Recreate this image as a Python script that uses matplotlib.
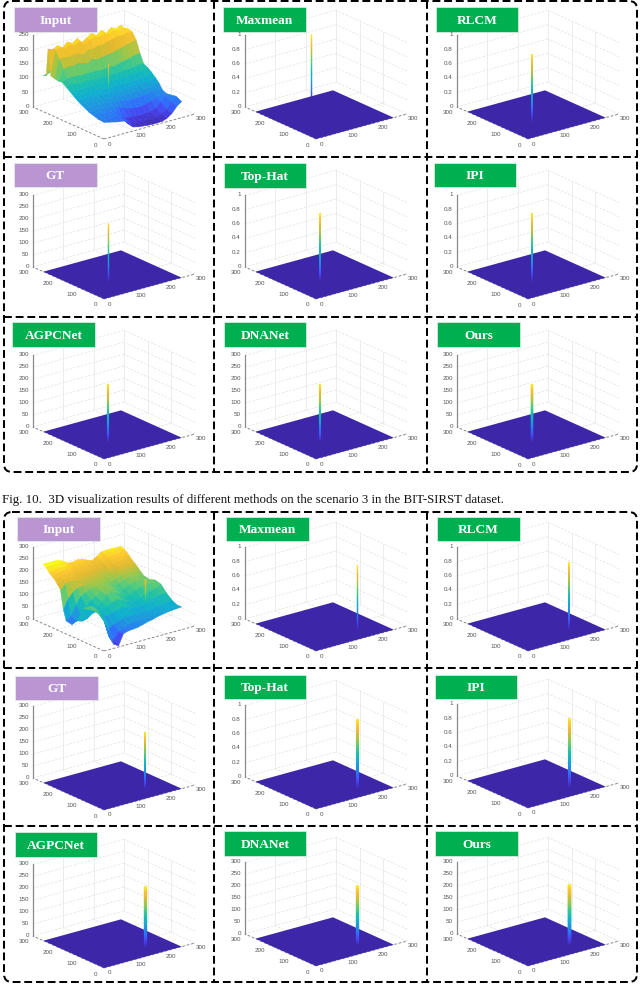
"""Recreates the two BIT-SIRST 3x3 3D result grids with their dashed frames."""
import matplotlib
matplotlib.use("Agg")
import matplotlib.pyplot as plt
import numpy as np
from matplotlib.colors import LinearSegmentedColormap
from matplotlib.patches import FancyBboxPatch, Rectangle
from mpl_toolkits.mplot3d import proj3d
from mpl_toolkits.mplot3d.art3d import Line3DCollection

W, H = 640, 984

METHODS = ["Input", "Maxmean", "RLCM",
           "GT", "Top-Hat", "IPI",
           "AGPCNet", "DNANet", "Ours"]
CAPTION = "Fig. 10.  3D visualization results of different methods on the scenario 3 in the BIT-SIRST dataset."

XY_TICKS = [0, 100, 200, 300]
TICKS_UNIT = [0, 0.2, 0.4, 0.6, 0.8, 1]
TICKS_300 = [0, 50, 100, 150, 200, 250, 300]
TICKS_250 = [0, 50, 100, 150, 200, 250]

# z axis top per panel
ZMAX_A = [250, 1, 1, 300, 1, 1, 300, 300, 300]
ZMAX_B = [300, 1, 1, 300, 1, 1, 300, 300, 300]

# target spike: floor position and peak height
SPIKE_XY_A = (80, 85)
SPIKE_XY_B = (174, 50)
SPIKE_TOP_A = [208, 1.0, 0.97, 254, 0.98, 0.98, 250, 250, 250]
SPIKE_TOP_B = [220, 0.92, 0.96, 245, 0.98, 0.98, 262, 258, 262]
SPIKE_FLOOR_INPUT_A = 80
SPIKE_FLOOR_INPUT_B = 117
MAXMEAN_XY_A = (141, 202)

FLOOR_EDGE = [0, 256]
GRID_X = [0, 16, 32, 48, 64, 80, 96, 112, 128, 144, 160, 176, 192, 208, 224, 240, 256]

# Input surface, scenario A
GRID_Y_A = [0, 24, 48, 64, 80, 96, 112, 128, 144, 160, 176, 192, 208, 224, 236, 244, 256]
INPUT_A = [
    [58, 54, 50, 46, 44, 38, 14, 10, 8, 6, 5, 5, 6, 12, 24, 44, 56],
    [60, 58, 56, 54, 50, 42, 18, 14, 12, 10, 10, 10, 12, 18, 30, 52, 66],
    [66, 66, 64, 62, 60, 56, 30, 24, 22, 20, 18, 20, 22, 30, 46, 64, 62],
    [70, 70, 70, 70, 68, 66, 60, 52, 46, 42, 38, 40, 44, 50, 58, 64, 60],
    [78, 78, 78, 78, 76, 74, 72, 70, 68, 64, 64, 64, 66, 68, 72, 74, 66],
    [84, 84, 84, 84, 84, 82, 80, 80, 78, 76, 76, 76, 76, 78, 80, 82, 86],
    [92, 92, 92, 92, 92, 90, 90, 88, 88, 86, 88, 86, 88, 88, 90, 92, 100],
    [102, 102, 100, 102, 100, 100, 98, 98, 96, 96, 98, 96, 98, 98, 100, 102, 112],
    [112, 112, 112, 110, 110, 110, 110, 108, 108, 110, 108, 110, 110, 112, 114, 116, 122],
    [122, 126, 124, 122, 122, 122, 120, 122, 120, 122, 122, 120, 124, 124, 126, 130, 128],
    [132, 140, 142, 140, 138, 140, 138, 140, 136, 140, 140, 138, 146, 148, 152, 158, 160],
    [130, 166, 170, 168, 172, 170, 164, 174, 168, 172, 174, 176, 182, 186, 192, 196, 200],
    [133, 196, 198, 194, 200, 196, 188, 202, 200, 206, 206, 212, 214, 220, 218, 224, 222],
    [136, 222, 224, 218, 226, 220, 228, 212, 224, 230, 224, 232, 226, 234, 228, 234, 226],
    [226, 220, 228, 216, 232, 222, 234, 216, 228, 238, 226, 240, 224, 240, 230, 240, 212],
    [130, 150, 150, 150, 150, 150, 150, 150, 150, 150, 150, 150, 150, 150, 150, 150, 150],
    [125, 130, 130, 130, 130, 130, 130, 130, 130, 130, 130, 130, 130, 130, 130, 130, 130],
]

# Input surface, scenario B
GRID_Y_B = [0, 20, 40, 64, 88, 112, 136, 160, 172, 184, 196, 208, 220, 232, 244, 256]
INPUT_B = [
    [130, 83, 17, 5, 50, 56, 58, 60, 66, 72, 76, 82, 86, 90, 92, 94, 95],
    [143, 110, 40, 20, 50, 62, 70, 72, 74, 76, 78, 82, 86, 88, 90, 92, 95],
    [150, 135, 95, 60, 70, 80, 88, 90, 88, 86, 88, 90, 95, 98, 100, 102, 105],
    [158, 150, 130, 100, 100, 105, 110, 116, 108, 100, 98, 102, 108, 115, 120, 125, 125],
    [140, 128, 118, 112, 118, 120, 130, 138, 126, 118, 108, 115, 120, 128, 135, 140, 152],
    [78, 70, 75, 90, 115, 128, 150, 162, 150, 136, 120, 125, 135, 145, 150, 150, 158],
    [50, 60, 80, 110, 130, 140, 158, 168, 160, 150, 136, 140, 150, 158, 160, 156, 150],
    [55, 70, 110, 140, 150, 160, 164, 170, 162, 156, 148, 150, 160, 166, 165, 160, 155],
    [100, 140, 160, 170, 172, 172, 174, 176, 170, 164, 160, 164, 174, 178, 176, 170, 166],
    [175, 195, 198, 198, 192, 184, 182, 180, 178, 172, 170, 176, 186, 190, 186, 182, 178],
    [190, 202, 206, 206, 200, 192, 190, 188, 186, 180, 178, 184, 196, 198, 196, 194, 188],
    [206, 210, 214, 214, 208, 200, 198, 198, 196, 190, 185, 192, 204, 208, 208, 206, 198],
    [216, 220, 224, 224, 216, 208, 206, 206, 204, 198, 192, 200, 212, 216, 218, 216, 210],
    [225, 228, 232, 232, 225, 215, 212, 214, 212, 206, 198, 208, 220, 224, 226, 224, 222],
    [240, 242, 244, 244, 232, 222, 218, 222, 220, 212, 204, 214, 228, 232, 232, 230, 230],
    [250, 250, 250, 250, 240, 226, 224, 228, 226, 216, 208, 220, 234, 236, 236, 235, 235],
]

# layout, in pixels from the top left of the page
FRONT_X = [104, 316, 528]
FRONT_Y_A = [[139, 139, 139], [299, 299, 299], [459, 459, 459]]
FRONT_Y_B = [[651, 651, 651], [810, 809, 808], [968, 966, 966]]
X_VEC = (91, -25)
BUTTONS_A = [(14, 7, 97, 32), (223, 7, 306, 32), (436, 7, 518, 32),
             (14, 163, 97, 187), (224, 163, 306, 188), (434, 163, 516, 187),
             (12, 322, 95, 347), (224, 322, 306, 347), (437, 322, 520, 347)]
BUTTONS_B = [(17, 517, 100, 541), (226, 517, 309, 541), (437, 517, 520, 541),
             (15, 676, 98, 700), (224, 675, 306, 699), (435, 675, 517, 699),
             (15, 832, 97, 857), (224, 831, 306, 856), (435, 831, 518, 856)]
SPIKE_LW_A = [0.8, 0.9, 1.4, 0.9, 1.4, 1.4, 1.5, 1.5, 1.7]
SPIKE_LW_B = [1.0, 0.9, 1.4, 1.3, 2.2, 2.2, 2.3, 2.3, 2.5]

PARULA = LinearSegmentedColormap.from_list("parula", [
    "#3e26a8", "#4743f0", "#2f6ffb", "#1f93e0", "#0fb0cf", "#1bc0a8",
    "#53cb7c", "#a4c644", "#e3b92f", "#fdc82e", "#f9fb15"])
PURPLE = "#b996d2"
GREEN = "#00b050"


def page_px(ax, x, y, z):
    """Page pixel (from the top left) of a data point of a 3D axes."""
    ax.apply_aspect()
    ax.M = ax.get_proj()
    px, py, _ = proj3d.proj_transform(x, y, z, ax.M)
    dx, dy = ax.transData.transform((px, py))
    return dx, H - dy


def place_axes(ax, front_xy):
    """Size and shift a 3D axes so that its box lands on the wanted page pixels."""
    side = 200.0
    ax.set_position([0.2, 0.2, side / W, side / H])
    a, b = page_px(ax, 0, 0, 0), page_px(ax, 300, 0, 0)
    side *= X_VEC[0] / (b[0] - a[0])
    ax.set_position([0.2, 0.2, side / W, side / H])
    a = page_px(ax, 0, 0, 0)
    left = 0.2 * W + front_xy[0] - a[0]
    bottom = 0.2 * H - (front_xy[1] - a[1])
    ax.set_position([left / W, bottom / H, side / W, side / H])


def draw_box(ax, page, zmax, zticks):
    dash = dict(color="#e2e2e2", lw=0.55, ls=(0, (3, 2)), zorder=1)
    solid = dict(color="#ececec", lw=0.7, zorder=1)
    for t in XY_TICKS[1:]:
        ax.plot([t, t], [0, 300], [0, 0], **dash)
        ax.plot([0, 300], [t, t], [0, 0], **dash)
        ax.plot([t, t], [300, 300], [0, zmax], **solid)
        ax.plot([300, 300], [t, t], [0, zmax], **solid)
    for z in zticks[1:]:
        ax.plot([0, 300], [300, 300], [z, z], **dash)
        ax.plot([300, 300], [0, 300], [z, z], **dash)
    edge = dict(color="#808080", lw=0.65, ls=(0, (3, 2)), zorder=1)
    ax.plot([0, 300], [0, 0], [0, 0], **edge)
    ax.plot([0, 0], [0, 300], [0, 0], **edge)
    ax.plot([0, 0], [300, 300], [0, zmax], color="#8a8a8a", lw=0.9, zorder=1)

    label = dict(fontsize=4.5, color="#555555", family="Liberation Sans")
    for t in XY_TICKS:
        px, py = page_px(ax, t, 0, 0)
        page.text(px + 6, py + 5, str(t), ha="center", va="center", **label)
        px, py = page_px(ax, 0, t, 0)
        page.text(px - 9, py + 6, str(t), ha="center", va="center", **label)
    for z in zticks:
        px, py = page_px(ax, 0, 300, z)
        page.text(px - 4, py - 0.5, f"{z:g}", ha="right", va="center", **label)


def draw_spike(ax, xy, z_from, z_top, vmax, lw, zorder=3):
    # drawn from the base upwards, each piece overlapping the one before it
    levels = np.linspace(z_from, z_top, 29)
    segs, colors = [], []
    for i in range(len(levels) - 1):
        top = levels[min(i + 2, len(levels) - 1)]
        segs.append([(xy[0], xy[1], levels[i]), (xy[0], xy[1], top)])
        colors.append(PARULA(levels[i] / vmax))
    ax.add_collection3d(Line3DCollection(segs, colors=colors, linewidths=lw, zorder=zorder,
                                         capstyle="butt"))


def draw_panel(fig, page, zmax, front_xy, spike_xy, spike_top, spike_lw, surface, spike_from):
    ax = fig.add_subplot(projection="3d", computed_zorder=False, proj_type="ortho")
    ax.view_init(elev=20.6, azim=-128)
    ax.set_xlim(0, 300, view_margin=0)
    ax.set_ylim(0, 300, view_margin=0)
    ax.set_zlim(0, zmax, view_margin=0)
    ax.set_box_aspect((115.5, 115.5, 76.5))
    ax.set_axis_off()
    ax.set_facecolor("none")
    place_axes(ax, front_xy)

    zticks = TICKS_UNIT if zmax == 1 else (TICKS_250 if zmax == 250 else TICKS_300)
    draw_box(ax, page, zmax, zticks)

    if surface is not None:
        gy, gz = surface
        X, Y = np.meshgrid(GRID_X, gy)
        surf = ax.plot_surface(X, Y, np.array(gz, dtype=float), cmap=PARULA, vmin=0, vmax=245,
                               rstride=1, cstride=1, linewidth=0, antialiased=True, shade=False,
                               zorder=2)
        # hide the seams between neighbouring quads
        surf.set_edgecolor("face")
        surf.set_linewidth(0.35)
        draw_spike(ax, spike_xy, spike_from, spike_top, 245, spike_lw)
    else:
        X, Y = np.meshgrid(FLOOR_EDGE, FLOOR_EDGE)
        ax.plot_surface(X, Y, np.zeros_like(X, dtype=float), color=PARULA(0.0),
                        linewidth=0, antialiased=True, shade=False, zorder=2)
        # the Maxmean peak of the first grid sits behind the floor sheet
        order = 1.5 if spike_xy == MAXMEAN_XY_A else 3
        draw_spike(ax, spike_xy, 0, spike_top, spike_top, spike_lw, zorder=order)
    return ax


def draw_frame(page, left, top, right, bottom, cols, rows):
    style = dict(color="black", lw=1.45, ls=(0, (3.9, 1.9)))
    page.add_patch(FancyBboxPatch((left, top), right - left, bottom - top,
                                  boxstyle="round,pad=0,rounding_size=8",
                                  fc="none", ec="black", lw=1.45, ls=(0, (3.9, 1.9))))
    for c in cols:
        page.plot([c, c], [top, bottom], **style)
    for r in rows:
        page.plot([left, right], [r, r], **style)


def draw_button(page, rect, name):
    x0, y0, x1, y1 = rect
    color = PURPLE if name in ("Input", "GT") else GREEN
    page.add_patch(Rectangle((x0, y0), x1 - x0, y1 - y0, fc=color, ec="#e4efe8", lw=0.5))
    page.text(0.5 * (x0 + x1), 0.5 * (y0 + y1) + 1.2, name, ha="center", va="center", color="white",
              fontsize=9.6, fontweight="bold", family="Liberation Serif")


fig = plt.figure(figsize=(W / 100, H / 100), dpi=100, facecolor="white")

page = fig.add_axes([0, 0, 1, 1], zorder=20)
page.set_xlim(0, W)
page.set_ylim(H, 0)
page.set_axis_off()
page.patch.set_alpha(0)

for i, name in enumerate(METHODS):
    r, c = divmod(i, 3)
    surf_a = (GRID_Y_A, INPUT_A) if i == 0 else None
    surf_b = (GRID_Y_B, INPUT_B) if i == 0 else None
    xy_a = MAXMEAN_XY_A if i == 1 else SPIKE_XY_A
    draw_panel(fig, page, ZMAX_A[i], (FRONT_X[c], FRONT_Y_A[r][c]), xy_a,
               SPIKE_TOP_A[i], SPIKE_LW_A[i], surf_a, SPIKE_FLOOR_INPUT_A)
    draw_panel(fig, page, ZMAX_B[i], (FRONT_X[c], FRONT_Y_B[r][c]), SPIKE_XY_B,
               SPIKE_TOP_B[i], SPIKE_LW_B[i], surf_b, SPIKE_FLOOR_INPUT_B)

draw_frame(page, 4, 1, 637, 472, [214, 427], [157, 317])
draw_frame(page, 4, 512, 637, 982, [214, 427], [668, 826])
for i, name in enumerate(METHODS):
    draw_button(page, BUTTONS_A[i], name)
    draw_button(page, BUTTONS_B[i], name)

page.text(2, 500, CAPTION, ha="left", va="center", fontsize=9.3, family="Liberation Serif",
          color="#111111")

fig.savefig("out.png", dpi=100)
